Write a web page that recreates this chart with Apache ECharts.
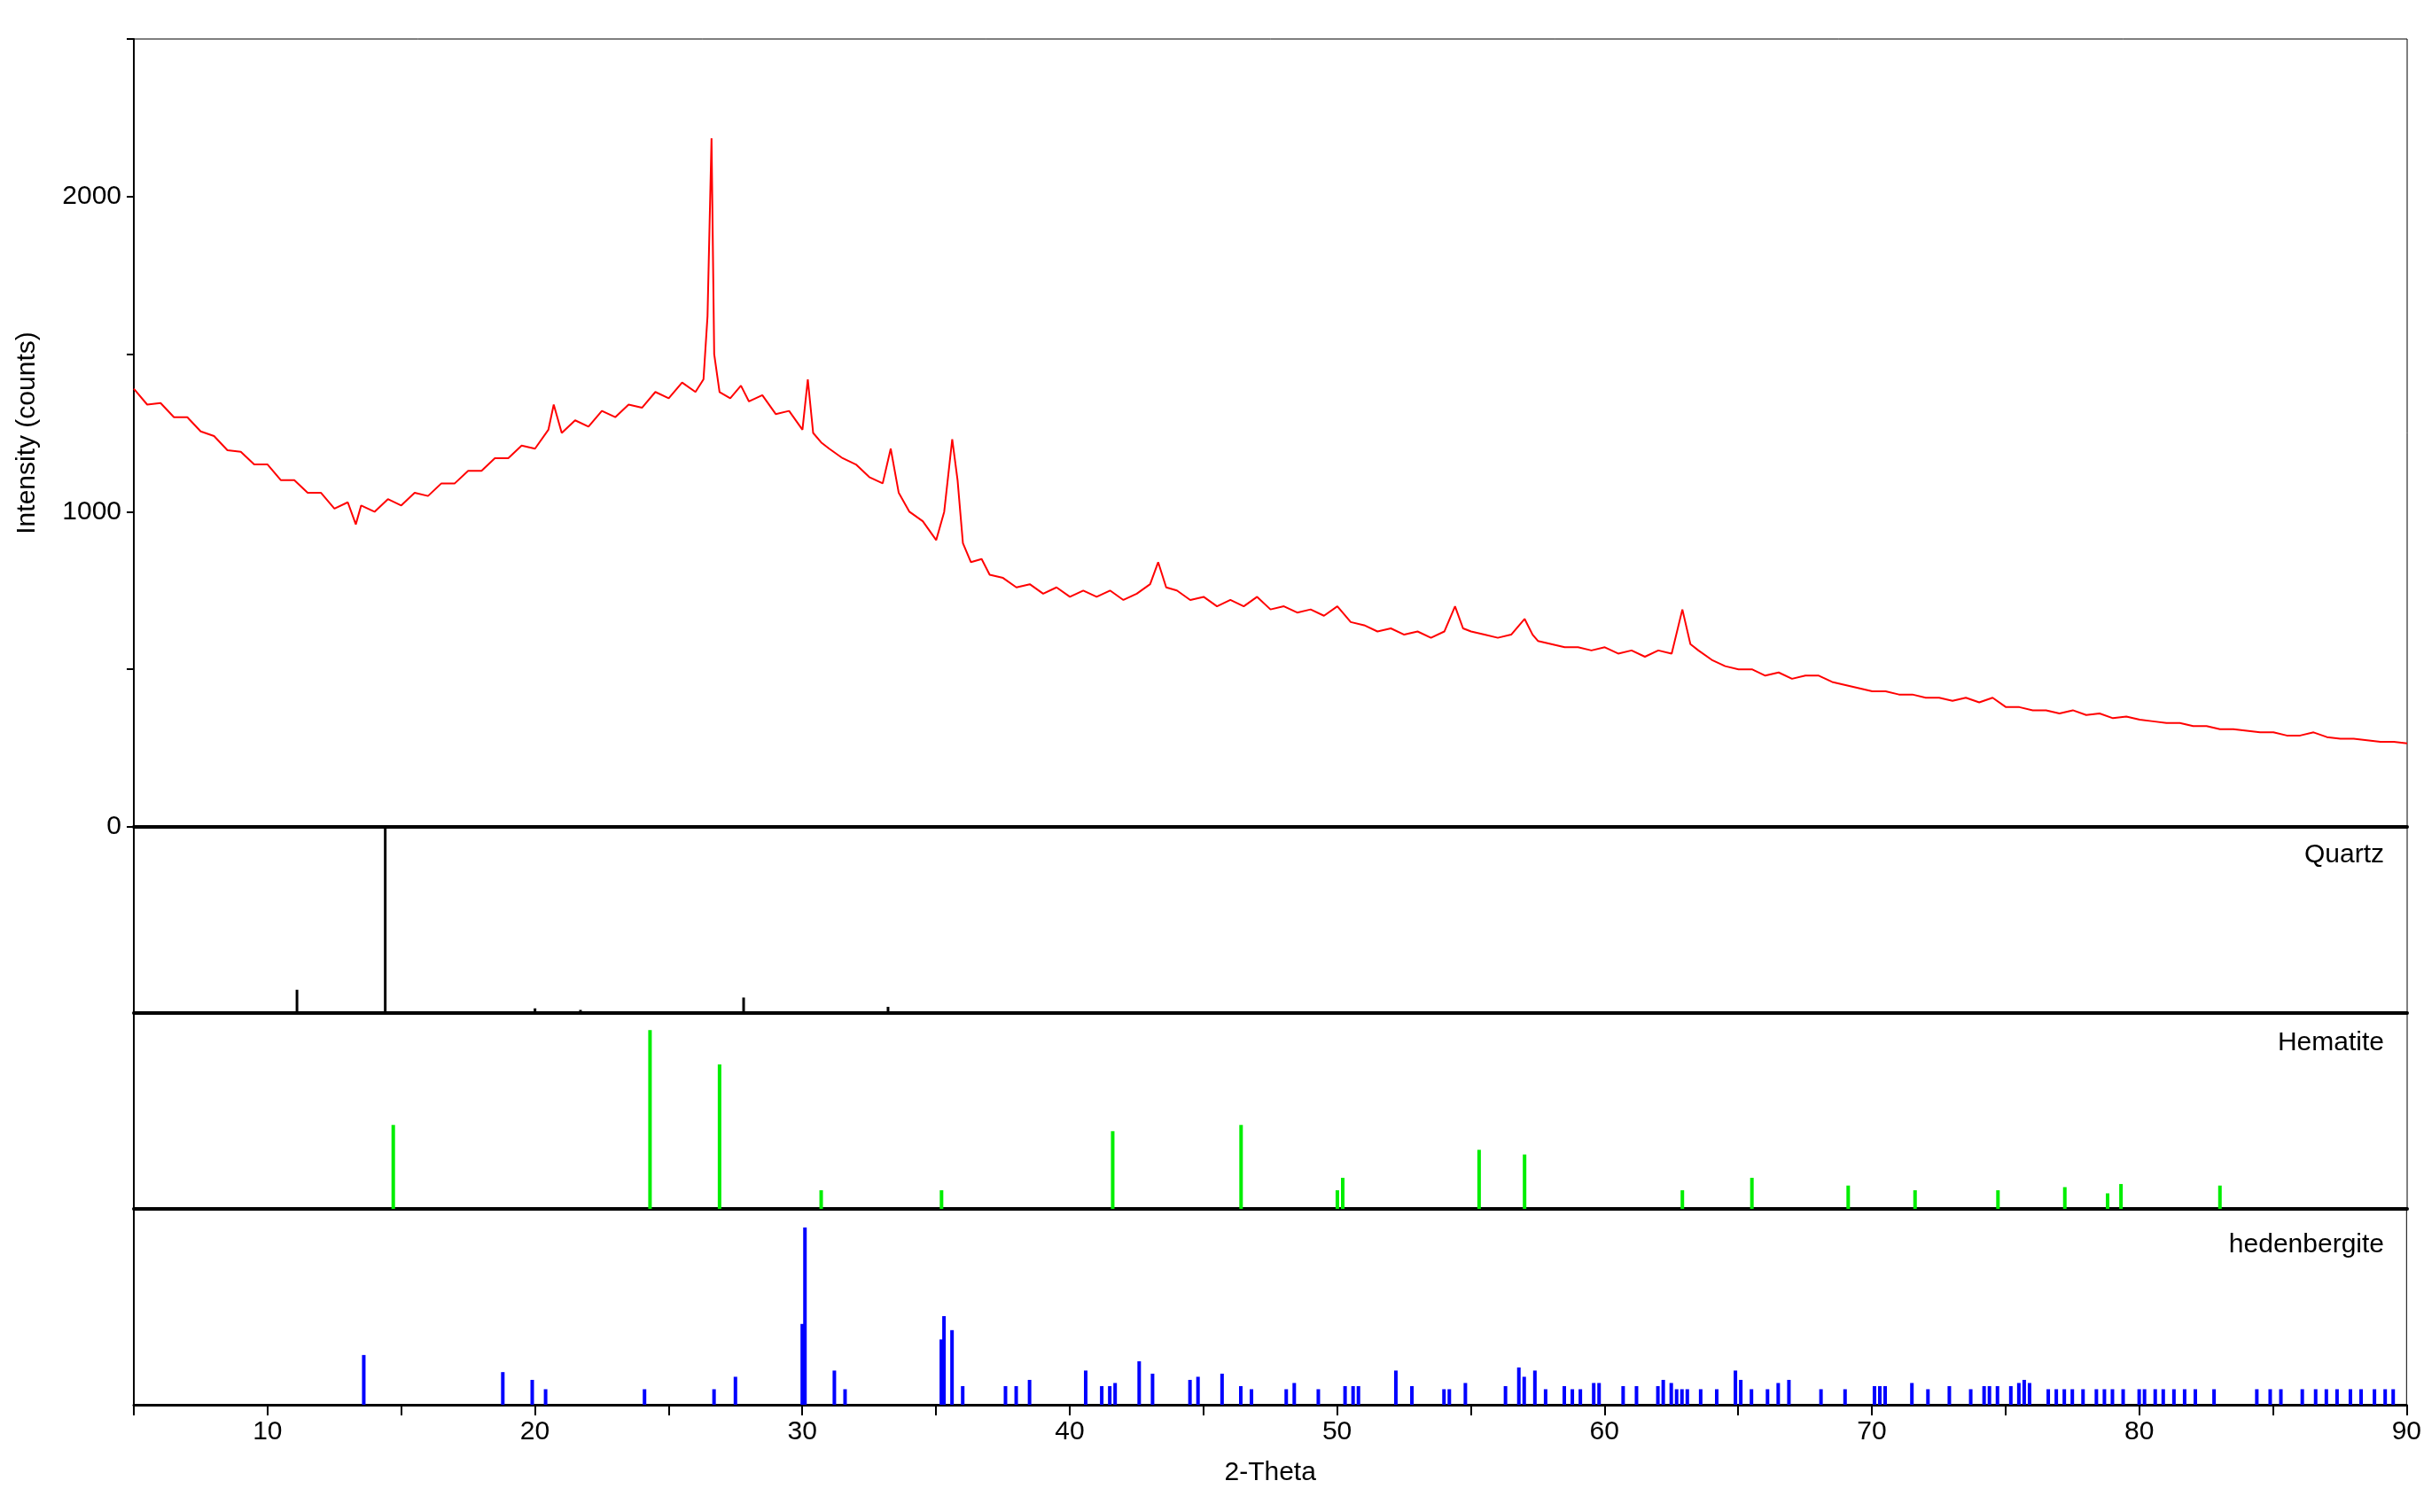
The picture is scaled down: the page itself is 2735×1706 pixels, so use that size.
<!DOCTYPE html>
<html><head><meta charset="utf-8">
<script src="https://cdn.jsdelivr.net/npm/echarts@6/dist/echarts.min.js"></script>
<style>html,body{margin:0;padding:0;background:#fff}#c{width:2735px;height:1706px}</style>
</head><body><div id="c"></div>
<script>
// Measured pattern: [2-theta, counts]
const pattern = [
[5,1390],[5.5,1340],[6,1345],[6.5,1300],[7,1300],[7.5,1255],[8,1240],[8.5,1195],[9,1190],[9.5,1150],
[10,1150],[10.5,1100],[11,1100],[11.5,1060],[12,1060],[12.5,1010],[13,1030],[13.3,960],[13.5,1020],[14,1000],
[14.5,1040],[15,1020],[15.5,1060],[16,1050],[16.5,1090],[17,1090],[17.5,1130],[18,1130],[18.5,1170],[19,1170],
[19.5,1210],[20,1200],[20.5,1260],[20.7,1340],[21,1250],[21.5,1290],[22,1270],[22.5,1320],[23,1300],[23.5,1340],
[24,1330],[24.5,1380],[25,1360],[25.5,1410],[26,1380],[26.3,1420],[26.45,1620],[26.6,2185],[26.7,1500],[26.9,1380],
[27.3,1360],[27.7,1400],[28,1350],[28.5,1370],[29,1310],[29.5,1320],[30,1260],[30.2,1420],[30.4,1250],[30.7,1220],
[31,1200],[31.5,1170],[32,1150],[32.5,1110],[33,1090],[33.3,1200],[33.6,1060],[34,1000],[34.5,970],[35,910],
[35.3,1000],[35.6,1230],[35.8,1100],[36,900],[36.3,840],[36.7,850],[37,800],[37.5,790],[38,760],[38.5,770],
[39,740],[39.5,760],[40,730],[40.5,750],[41,730],[41.5,750],[42,720],[42.5,740],[43,770],[43.3,840],
[43.6,760],[44,750],[44.5,720],[45,730],[45.5,700],[46,720],[46.5,700],[47,730],[47.5,690],[48,700],
[48.5,680],[49,690],[49.5,670],[50,700],[50.5,650],[51,640],[51.5,620],[52,630],[52.5,610],[53,620],
[53.5,600],[54,620],[54.4,700],[54.7,630],[55,620],[55.5,610],[56,600],[56.5,610],[57,660],[57.3,610],
[57.5,590],[58,580],[58.5,570],[59,570],[59.5,560],[60,570],[60.5,550],[61,560],[61.5,540],[62,560],
[62.5,550],[62.9,690],[63.2,580],[63.5,560],[64,530],[64.5,510],[65,500],[65.5,500],[66,480],[66.5,490],
[67,470],[67.5,480],[68,480],[68.5,460],[69,450],[69.5,440],[70,430],[70.5,430],[71,420],[71.5,420],
[72,410],[72.5,410],[73,400],[73.5,410],[74,395],[74.5,410],[75,380],[75.5,380],[76,370],[76.5,370],
[77,360],[77.5,370],[78,355],[78.5,360],[79,345],[79.5,350],[80,340],[80.5,335],[81,330],[81.5,330],
[82,320],[82.5,320],[83,310],[83.5,310],[84,305],[84.5,300],[85,300],[85.5,290],[86,290],[86.5,300],
[87,285],[87.5,280],[88,280],[88.5,275],[89,270],[89.5,270],[90,265]
];
const quartz = [[11.1,15],[14.4,120],[20.0,3],[21.7,2],[23.4,1],[27.8,10],[33.2,4],[37.9,1]];
const hematite = [[14.7,54],[24.3,115],[26.9,93],[30.7,12],[35.2,12],[41.6,50],[46.4,54],[50.0,12],[50.2,20],
[55.3,38],[57.0,35],[62.9,12],[65.5,20],[69.1,15],[71.6,12],[74.7,12],[77.2,14],[78.8,10],[79.3,16],[83.0,15]];
const hedenbergite = [[13.6,32],[18.8,21],[19.9,16],[20.4,10],[24.1,10],[26.7,10],[27.5,18],[30.0,52],[30.1,114],
[31.2,22],[31.6,10],[35.2,42],[35.3,57],[35.6,48],[36.0,12],[37.6,12],[38.0,12],[38.5,16],[40.6,22],[41.2,12],
[41.5,12],[41.7,14],[42.6,28],[43.1,20],[44.5,16],[44.8,18],[45.7,20],[46.4,12],[46.8,10],[48.1,10],[48.4,14],
[49.3,10],[50.3,12],[50.6,12],[50.8,12],[52.2,22],[52.8,12],[54.0,10],[54.2,10],[54.8,14],[56.3,12],[56.8,24],
[57.0,18],[57.4,22],[57.8,10],[58.5,12],[58.8,10],[59.1,10],[59.6,14],[59.8,14],[60.7,12],[61.2,12],[62.0,12],
[62.2,16],[62.5,14],[62.7,10],[62.9,10],[63.1,10],[63.6,10],[64.2,10],[64.9,22],[65.1,16],[65.5,10],[66.1,10],
[66.5,14],[66.9,16],[68.1,10],[69.0,10],[70.1,12],[70.3,12],[70.5,12],[71.5,14],[72.1,10],[72.9,12],[73.7,10],
[74.2,12],[74.4,12],[74.7,12],[75.2,12],[75.5,14],[75.7,16],[75.9,14],[76.6,10],[76.9,10],[77.2,10],[77.5,10],
[77.9,10],[78.4,10],[78.7,10],[79.0,10],[79.4,10],[80.0,10],[80.2,10],[80.6,10],[80.9,10],[81.3,10],[81.7,10],
[82.1,10],[82.8,10],[84.4,10],[84.9,10],[85.3,10],[86.1,10],[86.6,10],[87.0,10],[87.4,10],[87.9,10],[88.3,10],
[88.8,10],[89.2,10],[89.5,10]];
const xTickLabels = [10,20,30,40,50,60,70,80,90];
const yTickLabels = [0,1000,2000];

const font = 'Liberation Sans';
const L = 151, W = 2565;
const grids = [
  {left:L, width:W, top:44, height:889},
  {left:L, width:W, top:933, height:210},
  {left:L, width:W, top:1143, height:221},
  {left:L, width:W, top:1364, height:221}
].map(g => Object.assign(g, {show:true, borderColor:'#000', borderWidth:1, containLabel:false}));

function xAx(i, last){
  return {type:'value', gridIndex:i, min:5, max:90, interval:5,
    axisLine:{show:true, onZero:false, lineStyle:{color:'#000', width: last?3:4}},
    axisTick:{show:last, length:12, lineStyle:{color:'#000', width:2}},
    axisLabel:{show:last, fontFamily:font, fontSize:30, color:'#000', margin:16,
      formatter: v => xTickLabels.includes(v) ? String(v) : ''},
    splitLine:{show:false},
    name: last ? '2-Theta' : '', nameLocation:'middle', nameGap:62,
    nameTextStyle:{fontFamily:font, fontSize:30, color:'#000'}};
}
function yAx(i, max){
  return {type:'value', gridIndex:i, min:0, max:max,
    axisLine:{show:true, lineStyle:{color:'#000', width:2}},
    axisTick:{show:false}, axisLabel:{show:false}, splitLine:{show:false}};
}
const yMain = {type:'value', gridIndex:0, min:0, max:2500, interval:500,
  axisLine:{show:true, lineStyle:{color:'#000', width:2}},
  axisTick:{show:true, length:8, lineStyle:{color:'#000', width:2}},
  axisLabel:{fontFamily:font, fontSize:30, color:'#000', margin:14,
    formatter: v => yTickLabels.includes(v) ? String(v) : ''},
  splitLine:{show:false},
  name:'Intensity (counts)', nameLocation:'middle', nameGap:105, nameRotate:90,
  nameTextStyle:{fontFamily:font, fontSize:30, color:'#000'}};

function sticks(i, data, color, bw){
  return {type:'bar', xAxisIndex:i, yAxisIndex:i, data:data, barWidth:bw,
    itemStyle:{color:color}, silent:true, animation:false};
}
const chart = echarts.init(document.getElementById('c'));
chart.setOption({
  animation:false, backgroundColor:'#fff',
  grid: grids,
  xAxis: [xAx(0,false), xAx(1,false), xAx(2,false), xAx(3,true)],
  yAxis: [yMain, yAx(1,120), yAx(2,126), yAx(3,126)],
  series: [
    {type:'line', xAxisIndex:0, yAxisIndex:0, data:pattern, showSymbol:false,
      lineStyle:{color:'#ff0000', width:2}, itemStyle:{color:'#ff0000'}},
    sticks(1, quartz, '#000', 3),
    sticks(2, hematite, '#00ee00', 4),
    sticks(3, hedenbergite, '#0000ff', 4)
  ],
  graphic: [
    {type:'text', right:45, top:950, style:{text:'Quartz', font:'30px Liberation Sans', fill:'#000'}},
    {type:'text', right:45, top:1162, style:{text:'Hematite', font:'30px Liberation Sans', fill:'#000'}},
    {type:'text', right:45, top:1390, style:{text:'hedenbergite', font:'30px Liberation Sans', fill:'#000'}}
  ]
});
</script></body></html>
